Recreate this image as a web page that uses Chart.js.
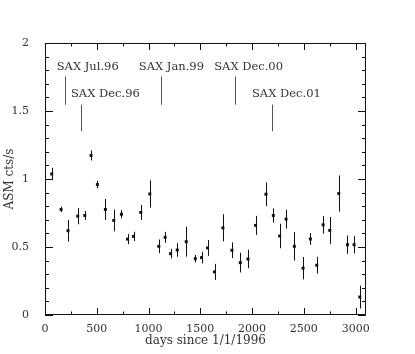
<!DOCTYPE html>
<html>
<head>
<meta charset="utf-8">
<script src="https://cdn.jsdelivr.net/npm/chart.js@4.4.1/dist/chart.umd.min.js"></script>
<style>
  html, body { margin: 0; padding: 0; background: #fff; }
  canvas { display: block; }
</style>
</head>
<body>
<canvas id="myChart" width="415" height="354"></canvas>
<script>
// ASM light curve, days since 1/1/1996
const days = [65, 155, 222, 316, 384, 445, 506, 583, 664, 738,
  797, 855, 925, 1012, 1099, 1160, 1213, 1277, 1364, 1451,
  1512, 1570, 1637, 1718, 1805, 1886, 1960, 2034, 2134, 2205,
  2266, 2328, 2408, 2492, 2563, 2624, 2686, 2750, 2837, 2921,
  2985, 3040];
const rates = [1.037, 0.776, 0.62, 0.727, 0.732, 1.173, 0.959, 0.776, 0.695, 0.741,
  0.558, 0.578, 0.754, 0.89, 0.505, 0.571, 0.451, 0.478, 0.539, 0.414,
  0.422, 0.493, 0.317, 0.641, 0.476, 0.385, 0.412, 0.659, 0.888, 0.732,
  0.581, 0.705, 0.505, 0.344, 0.559, 0.366, 0.663, 0.622, 0.893, 0.517,
  0.517, 0.132];
const errors = [0.045, 0.02, 0.08, 0.06, 0.033, 0.037, 0.028, 0.077, 0.08, 0.03,
  0.038, 0.034, 0.055, 0.1, 0.05, 0.04, 0.035, 0.05, 0.11, 0.027,
  0.043, 0.058, 0.059, 0.1, 0.058, 0.072, 0.068, 0.07, 0.087, 0.052,
  0.09, 0.07, 0.105, 0.082, 0.044, 0.062, 0.065, 0.099, 0.133, 0.068,
  0.065, 0.084];

// SAX pointings
const saxLabels = ['SAX Jul.96', 'SAX Dec.96', 'SAX Jan.99', 'SAX Dec.00', 'SAX Dec.01'];
const saxDays = [197, 351, 1119, 1831, 2192];
const saxLineTop = [1.754, 1.547, 1.754, 1.754, 1.547];
const saxLineBottom = [1.546, 1.351, 1.546, 1.546, 1.351];
const saxLabelDays = [113, 251, 906, 1634, 1999];
const saxLabelLevel = [1.825, 1.625, 1.825, 1.825, 1.625];

const xTicks = [0, 500, 1000, 1500, 2000, 2500, 3000];
const yTicks = [0, 0.5, 1, 1.5, 2];

const FONT = 'DejaVu Serif';
const INK = '#111';
const TEXT = '#333';

// error bars, SAX markers, frame with inward ticks
const extras = {
  id: 'extras',
  beforeDatasetsDraw(chart) {
    const ctx = chart.ctx;
    const x = chart.scales.x, y = chart.scales.y;
    const a = chart.chartArea;
    ctx.save();
    ctx.strokeStyle = INK;
    ctx.lineWidth = 1;
    ctx.beginPath();
    ctx.rect(a.left + 0.5, a.top + 0.5, a.right - a.left - 1, a.bottom - a.top - 1);

    for (let v = 0; v <= 3100; v += 250) {
      const px = Math.round(x.getPixelForValue(v)) + 0.5;
      const len = v % 500 === 0 ? 7 : 3.5;
      ctx.moveTo(px, a.bottom); ctx.lineTo(px, a.bottom - len);
      ctx.moveTo(px, a.top); ctx.lineTo(px, a.top + len);
    }
    for (let i = 0; i <= 20; i++) {
      const v = i / 10;
      const py = Math.round(y.getPixelForValue(v)) + 0.5;
      const len = i % 5 === 0 ? 8 : 4;
      ctx.moveTo(a.left, py); ctx.lineTo(a.left + len, py);
      ctx.moveTo(a.right, py); ctx.lineTo(a.right - len, py);
    }
    ctx.stroke();

    // error bars
    ctx.beginPath();
    days.forEach(function (d, i) {
      const px = Math.round(x.getPixelForValue(d)) + 0.5;
      ctx.moveTo(px, y.getPixelForValue(rates[i] + errors[i]));
      ctx.lineTo(px, y.getPixelForValue(rates[i] - errors[i]));
    });
    ctx.stroke();

    // SAX markers
    ctx.strokeStyle = '#555';
    ctx.beginPath();
    saxDays.forEach(function (d, i) {
      const px = Math.round(x.getPixelForValue(d)) + 0.5;
      ctx.moveTo(px, y.getPixelForValue(saxLineTop[i]));
      ctx.lineTo(px, y.getPixelForValue(saxLineBottom[i]));
    });
    ctx.stroke();
    ctx.fillStyle = TEXT;
    ctx.font = '11.5px "' + FONT + '"';
    ctx.textAlign = 'left';
    ctx.textBaseline = 'middle';
    saxLabels.forEach(function (t, i) {
      ctx.fillText(t, x.getPixelForValue(saxLabelDays[i]), y.getPixelForValue(saxLabelLevel[i]));
    });
    ctx.restore();
  }
};

const data = {
  datasets: [{
    label: 'ASM',
    data: days.map(function (d, i) { return { x: d, y: rates[i] }; }),
    pointStyle: 'rect',
    pointRadius: 2.1,
    backgroundColor: INK,
    borderColor: INK,
    borderWidth: 0,
    showLine: false
  }]
};

const config = {
  type: 'scatter',
  data: data,
  options: {
    responsive: false,
    animation: false,
    layout: { padding: { top: 43, right: 49, left: 0, bottom: 0 } },
    plugins: {
      legend: { display: false },
      tooltip: { enabled: false }
    },
    scales: {
      x: {
        type: 'linear',
        min: 0,
        max: 3100,
        grid: { display: false },
        border: { display: false },
        afterBuildTicks: function (scale) {
          scale.ticks = xTicks.map(function (v) { return { value: v }; });
        },
        afterFit: function (scale) { scale.height = 39; },
        ticks: {
          maxRotation: 0,
          minRotation: 0,
          autoSkip: false,
          padding: 0,
          color: TEXT,
          font: { family: FONT, size: 11 },
          callback: function (v) { return String(v); }
        },
        title: {
          display: true,
          text: 'days since 1/1/1996',
          color: TEXT,
          font: { family: FONT, size: 12 },
          padding: { top: 0, bottom: 6 }
        }
      },
      y: {
        type: 'linear',
        min: 0,
        max: 2,
        grid: { display: false },
        border: { display: false },
        afterBuildTicks: function (scale) {
          scale.ticks = yTicks.map(function (v) { return { value: v }; });
        },
        afterFit: function (scale) { scale.width = 45; },
        ticks: {
          padding: 8,
          color: TEXT,
          font: { family: FONT, size: 11 },
          callback: function (v) { return String(v); }
        },
        title: {
          display: true,
          text: 'ASM cts/s',
          color: TEXT,
          font: { family: FONT, size: 12 },
          padding: { top: 3, bottom: 0 }
        }
      }
    }
  },
  plugins: [extras]
};

const myChart = new Chart(document.getElementById('myChart'), config);
</script>
</body>
</html>
